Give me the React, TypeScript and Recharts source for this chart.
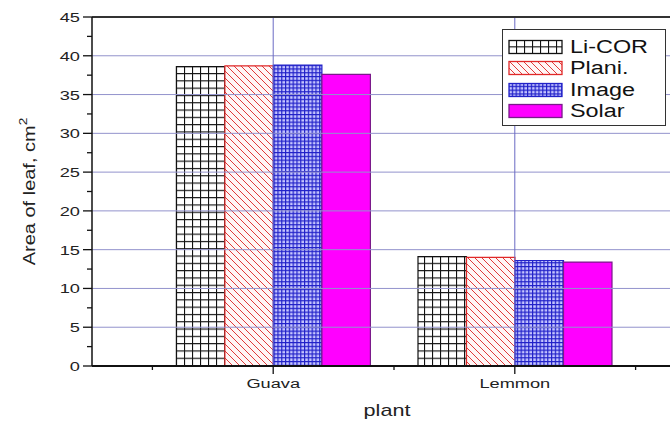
import { BarChart, Bar, XAxis, YAxis, ReferenceLine, Label } from "recharts";

// categories and their x positions on the numeric axis
const plants = ["Guava", "Lemmon"];
const plantPos = [1, 2];

// leaf area, cm^2, per method
const licor = [38.6, 14.1];
const plani = [38.7, 14.0];
const image = [38.8, 13.6];
const solar = [37.6, 13.4];

const yTicks = [0, 2.5, 5, 7.5, 10, 12.5, 15, 17.5, 20, 22.5, 25, 27.5, 30, 32.5, 35, 37.5, 40, 42.5, 45];
const xTicks = [0.5, 1, 1.5, 2, 2.5];
const gridY = [5, 10, 15, 20, 25, 30, 35, 40];

const data = plants.map((p, i) => ({
  plant: p,
  x: plantPos[i],
  licor: licor[i],
  plani: plani[i],
  image: image[i],
  solar: solar[i],
}));

const series = [
  { key: "licor", name: "Li-COR", fill: "url(#p-licor)", stroke: "#111" },
  { key: "plani", name: "Plani.", fill: "url(#p-plani)", stroke: "#e02828" },
  { key: "image", name: "Image", fill: "url(#p-image)", stroke: "#2222c8" },
  { key: "solar", name: "Solar", fill: "#ff00ff", stroke: "#7a1a8a" },
];

const FONT = "'Liberation Sans', Arial, sans-serif";
const SX = 1.35; // text in the picture is stretched wide

function Patterns({ prefix }: { prefix: string }) {
  return (
    <defs>
      <pattern id={prefix + "licor"} width="8" height="7.3" patternUnits="userSpaceOnUse">
        <rect width="8" height="7.3" fill="#fff" />
        <path d="M0.5 0V7.3M0 0.5H8" stroke="#111" strokeWidth="1.2" />
      </pattern>
      <pattern id={prefix + "plani"} width="7" height="7" patternUnits="userSpaceOnUse">
        <rect width="7" height="7" fill="#fff6f6" />
        <path d="M-1 -1L8 8M-1 6L1 8M6 -1L8 1" stroke="#e03a3a" strokeWidth="1" />
      </pattern>
      <pattern id={prefix + "image"} width="3.8" height="3.8" patternUnits="userSpaceOnUse">
        <rect width="3.8" height="3.8" fill="#c6c6ff" />
        <path d="M0.6 0V3.8M0 0.6H3.8" stroke="#2020c8" strokeWidth="1.2" />
      </pattern>
    </defs>
  );
}

function YTick(props: any) {
  const { x, y, payload } = props;
  const major = payload.value % 5 === 0;
  return (
    <g>
      <line x1={x - (major ? 9 : 5)} x2={x} y1={y} y2={y} stroke="#111" strokeWidth={1.3} />
      {major && (
        <text
          transform={`translate(${x - 12},${y + 5}) scale(${SX},1)`}
          textAnchor="end"
          fontSize={13.5}
          fontFamily={FONT}
          fill="#222"
        >
          {payload.value}
        </text>
      )}
    </g>
  );
}

function XTick(props: any) {
  const { x, y, payload } = props;
  const idx = plantPos.indexOf(payload.value);
  const major = idx >= 0;
  return (
    <g>
      <line x1={x} x2={x} y1={y} y2={y + (major ? 8 : 4)} stroke="#111" strokeWidth={1.3} />
      {major && (
        <text
          transform={`translate(${x},${y + 22}) scale(${SX},1)`}
          textAnchor="middle"
          fontSize={13.5}
          fontFamily={FONT}
          fill="#222"
        >
          {plants[idx]}
        </text>
      )}
    </g>
  );
}

function YLabel(props: any) {
  const { viewBox } = props;
  const cx = 30;
  const cy = viewBox.y + viewBox.height / 2;
  return (
    <text
      transform={`translate(${cx},${cy}) rotate(-90) scale(1.25,1)`}
      textAnchor="middle"
      fontSize={16}
      fontFamily={FONT}
      fill="#222"
      dy={5}
    >
      Area of leaf, cm
      <tspan dy={-8} fontSize={11}>2</tspan>
    </text>
  );
}

function XLabel(props: any) {
  const { viewBox } = props;
  return (
    <text
      transform={`translate(${viewBox.x + viewBox.width / 2 - 7},${viewBox.y + 50}) scale(${SX},1)`}
      textAnchor="middle"
      fontSize={16}
      fontFamily={FONT}
      fill="#222"
    >
      plant
    </text>
  );
}

function ChartLegend() {
  return (
    <div
      style={{
        position: "absolute",
        left: 502,
        top: 29,
        width: 164,
        height: 97,
        border: "1px solid #333",
        background: "#fff",
        boxSizing: "border-box",
        paddingTop: 6,
      }}
    >
      <svg width={0} height={0} style={{ position: "absolute" }}>
        <Patterns prefix="lg-" />
      </svg>
      {series.map((s) => (
        <div key={s.key} style={{ display: "flex", alignItems: "center", height: 21.5, paddingLeft: 5 }}>
          <svg width={56} height={16}>
            <rect
              x={1}
              y={1.5}
              width={53}
              height={13}
              fill={s.fill.replace("#p-", "#lg-")}
              stroke={s.stroke}
              strokeWidth={1.3}
            />
          </svg>
          <span
            style={{
              fontFamily: FONT,
              fontSize: 18,
              color: "#111",
              marginLeft: 6,
              display: "inline-block",
              transform: "scale(1.3,1)",
              transformOrigin: "left center",
              lineHeight: "18px",
            }}
          >
            {s.name}
          </span>
        </div>
      ))}
    </div>
  );
}

export default function App() {
  return (
    <div
      style={{
        position: "fixed",
        left: 0,
        top: 0,
        width: 670,
        height: 423,
        overflow: "hidden",
        background: "#fff",
      }}
    >
      <BarChart
        width={696}
        height={423}
        data={data}
        margin={{ top: 17, right: 0, left: 0, bottom: 0 }}
        barGap={0}
      >
        <Patterns prefix="p-" />
        {gridY.map((v) => (
          <ReferenceLine key={v} y={v} stroke="#9292cc" strokeWidth={1} />
        ))}
        {plantPos.map((v) => (
          <ReferenceLine key={v} x={v} stroke="#6a6ac4" strokeWidth={1} />
        ))}
        <XAxis
          type="number"
          dataKey="x"
          domain={[0.25, 2.75]}
          ticks={xTicks}
          tick={<XTick />}
          tickLine={false}
          tickSize={0}
          tickMargin={0}
          height={57}
          axisLine={{ stroke: "#111", strokeWidth: 2 }}
          allowDataOverflow
        >
          <Label content={<XLabel />} />
        </XAxis>
        <YAxis
          domain={[0, 45]}
          ticks={yTicks}
          tick={<YTick />}
          tickLine={false}
          tickSize={0}
          tickMargin={0}
          width={92}
          interval={0}
          axisLine={{ stroke: "#111", strokeWidth: 1.5 }}
        >
          <Label content={<YLabel />} />
        </YAxis>
        <ReferenceLine y={45} stroke="#333" strokeWidth={2} />
        {series.map((s) => (
          <Bar
            key={s.key}
            dataKey={s.key}
            name={s.name}
            fill={s.fill}
            stroke={s.stroke}
            strokeWidth={1.2}
            barSize={48.5}
            isAnimationActive={false}
          />
        ))}
      </BarChart>
      <ChartLegend />
    </div>
  );
}
